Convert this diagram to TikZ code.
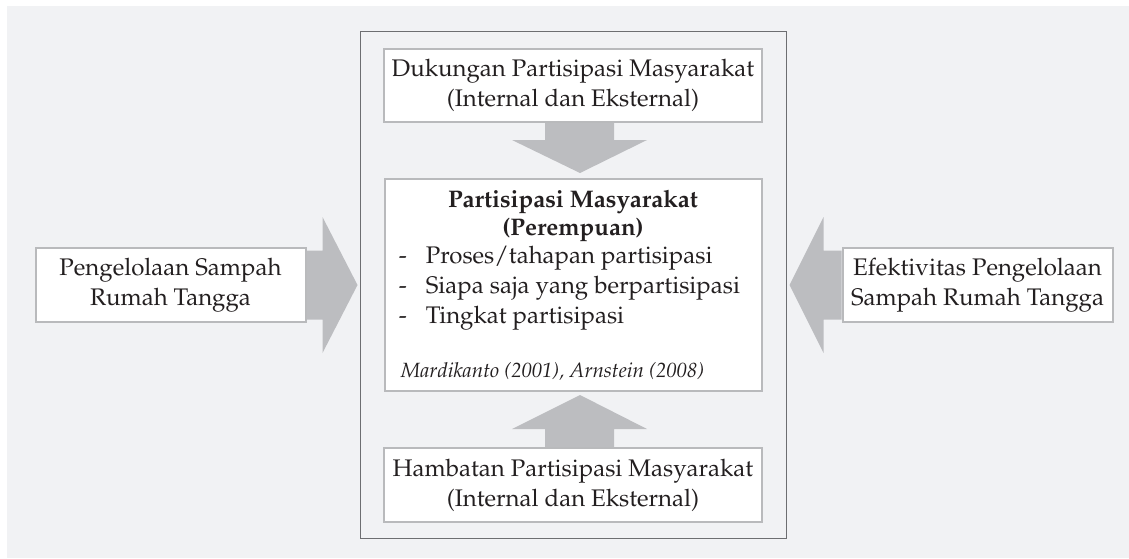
\documentclass[tikz,border=0pt]{standalone}
\usepackage[T1]{fontenc}
\usepackage{mathpazo}
\usepackage{xcolor}
\usepackage{tikz}
\usetikzlibrary{positioning, calc}
\definecolor{latar}{HTML}{F1F2F4}
\definecolor{abupanah}{HTML}{BCBDC0}
\definecolor{abukotak}{HTML}{B9BABC}
\definecolor{abubingkai}{HTML}{6D6E71}
\definecolor{tinta}{HTML}{231F20}

\begin{document}
\begin{tikzpicture}[x=0.5pt,y=-0.5pt,
    kotak/.style={draw=abukotak,fill=white,line width=1pt,align=center,
      text=tinta,inner sep=0pt,font=\fontsize{12}{15}\selectfont},
    kotaktengah/.style={kotak,minimum width=189pt,minimum height=37pt},
    kotaksamping/.style={kotak,minimum width=135pt,minimum height=37pt},
    panah/.style={fill=abupanah}]
    \useasboundingbox (0,0) rectangle (1129,558);
    \fill[latar] (7,6) rectangle (1129,558);
    \draw[abubingkai,line width=0.5pt] (360,31) rectangle (786,538);

    \node[kotaktengah,minimum height=36.5pt] (dukung) at (573,85.5)
      {Dukungan Partisipasi Masyarakat\\(Internal dan Eksternal)};
    \node[kotak,minimum width=188.5pt,minimum height=106pt,below=27.5pt of dukung] (partisipasi) {};
    \node[kotaktengah,below=27.5pt of partisipasi] (hambat)
      {Hambatan Partisipasi Masyarakat\\(Internal dan Eksternal)};
    \node[kotaksamping,left=38.5pt of partisipasi] (kelola)
      {Pengelolaan Sampah\\Rumah Tangga};
    \node[kotaksamping,right=39.5pt of partisipasi] (efektif)
      {Efektivitas Pengelolaan\\Sampah Rumah Tangga};

    \node[anchor=north,inner sep=0pt,text=tinta,font=\fontsize{12}{14}\selectfont\bfseries]
      (judul) at ($(partisipasi.north)+(0,9.4)$)
      {\begin{tabular}{@{}c@{}}Partisipasi Masyarakat\\(Perempuan)\end{tabular}};
    \node[anchor=north west,inner sep=0pt,text=tinta,font=\fontsize{12}{15}\selectfont]
      (daftar) at ($(partisipasi.north west)+(15,64)$)
      {\begin{tabular}{@{}l@{\hspace{9.5pt}}l@{}}
        - & Proses/tahapan partisipasi\\
        - & Siapa saja yang berpartisipasi\\
        - & Tingkat partisipasi
      \end{tabular}};
    \node[anchor=base west,inner sep=0pt,text=tinta,font=\fontsize{10.3}{12}\selectfont\itshape]
      (sumber) at ($(partisipasi.south west)+(17,-15)$)
      {Mardikanto (2001), Arnstein (2008)};

    \fill[panah] ($(dukung.south)+(-28,0)$) -- ++(0,17) -- ++(-33,0)
      -- ($(partisipasi.north)+(7,-5)$) -- ($(dukung.south)+(74,17)$)
      -- ++(-33,0) -- ($(dukung.south)+(41,0)$) -- cycle;
    \fill[panah] ($(hambat.north)+(-28,0)$) -- ++(0,-18) -- ++(-33,0)
      -- ($(partisipasi.south)+(7,3)$) -- ($(hambat.north)+(74,-18)$)
      -- ++(-33,0) -- ($(hambat.north)+(41,0)$) -- cycle;
    \fill[panah] ($(kelola.east)+(0,-34.5)$) -- ++(16,0) -- ++(0,-33.5)
      -- ($(partisipasi.west)+(-26,0)$) -- ($(kelola.east)+(16,68)$)
      -- ++(0,-33.5) -- ($(kelola.east)+(0,34.5)$) -- cycle;
    \fill[panah] ($(efektif.west)+(0,-34.5)$) -- ++(-18,0) -- ++(0,-33.5)
      -- ($(partisipasi.east)+(27,0)$) -- ($(efektif.west)+(-18,68)$)
      -- ++(0,-33.5) -- ($(efektif.west)+(0,34.5)$) -- cycle;
  \end{tikzpicture}
\end{document}
